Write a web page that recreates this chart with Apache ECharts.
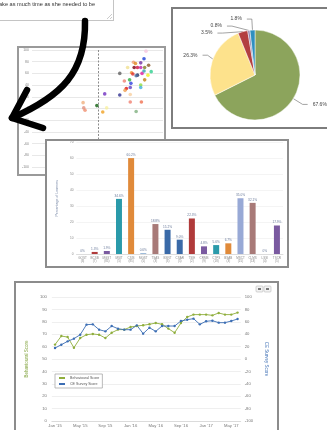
<!DOCTYPE html>
<html>
<head>
<meta charset="utf-8">
<script src="https://cdn.jsdelivr.net/npm/echarts@6/dist/echarts.min.js"></script>
<style>
html, body { margin: 0; padding: 0; width: 327px; height: 430px; overflow: hidden; background: #fff; position: relative; }
.box { position: absolute; box-sizing: border-box; background: #fff; }
</style>
</head>
<body>
<div id="note" class="box" style="left:-6px;top:-6px;width:120px;height:27px;border:1px solid #c4c4c4"></div>
<div id="pie" class="box" style="left:171px;top:7px;width:158px;height:122px;border:2px solid #7d7d7d"></div>
<div id="scatter" class="box" style="left:17px;top:46px;width:149px;height:130px;border:2px solid #9a9a9a"></div>
<div id="bar" class="box" style="left:45px;top:139px;width:244px;height:129px;border:2px solid #8c8c8c"></div>
<div id="line" class="box" style="left:14px;top:281px;width:265px;height:160px;border:2px solid #8c8c8c"></div>
<div id="arrow" style="position:absolute;left:0;top:0;width:327px;height:430px;pointer-events:none"></div>
<script>
// note text
const noteText = 'ake as much time as she needed to be'

// pie
const pieValues = [67.6, 26.3, 3.5, 0.8, 1.8]
const pieColors = ['#8ca45c', '#fde28c', '#b33f40', '#8f84b0', '#2f8fc0']

// scatter points (x, y)
const scatterX = [71, 74, 55, 58, 66, 78, 56, 61, 66, 72, 46, 52, 54, 61, 68, 71, 82, 77, 34, 59, 49, 41, 51, 66, 66, 72, 50, 44, 42, 50, 34, 11, -1, 50, 67, 14, 8, 59, -22, -21, -19]
const scatterY = [85, 98, 79, 77, 78, 74, 70, 70, 70, 70, 70, 61, 59, 57, 60, 64, 63, 57, 60, 56, 49, 47, 43, 40, 36, 49, 36, 34, 31, 24, 23, 25, 5, 11, 11, 1, -6, -5, 10, 1, -3]
const scatterColors = ['#1a3fd6', '#f6c6de', '#f0a070', '#e08a20', '#7030a0', '#8b5a2b', '#7a0010', '#d01040', '#c020b0', '#808020',
  '#f0e090', '#f09030', '#e03030', '#203060', '#e020a0', '#30a0b0', '#30d090', '#f0f020', '#606060', '#5070a0',
  '#30b040', '#f08070', '#3040e0', '#90e040', '#40b0e0', '#c08010', '#6040c0', '#e01010', '#f0a050', '#f8d0a0',
  '#303090', '#7030c0', '#106010', '#f08070', '#f07050', '#f8f0a0', '#f0a020', '#80b080', '#f0b080', '#e09080', '#f09070']

// bar
const barCategories = ['GOST\n(3)', 'BCSB\n(7)', 'MGST\n(85)', 'MSIT\n(5)', 'CSIS\n(85)', 'MGST\n(5)', 'TSAS\n(3)', 'BSNT\n(3)', 'CSAR\n(5)',
  'TSIE\n(2)', 'CRMB\n(9)', 'CTPS\n(18)', 'BSAB\n(3)', 'MSCT\n(15)', 'CLMS\n(13)', 'LSSI\n(4)', 'TSCR\n(5)']
const barValues = [0, 1.3, 1.9, 34.6, 60.2, 0.6, 18.8, 15.2, 9.0, 22.3, 4.8, 5.6, 6.7, 35.0, 32.1, 0, 17.9]
const barColors = ['#9ab8d8', '#b03a3a', '#7a5aa0', '#2a9aaa', '#e08a3a', '#9ab8d8', '#a87a78', '#3a6aa8', '#3a6aa8',
  '#b03a3a', '#7a5aa0', '#2a9aaa', '#e08a3a', '#98a9d6', '#a87a78', '#9ab8d8', '#7a5aa0']

// line
const months = ['Jan \'15', 'Feb \'15', 'Mar \'15', 'Apr \'15', 'May \'15', 'Jun \'15', 'Jul \'15', 'Aug \'15', 'Sep \'15', 'Oct \'15', 'Nov \'15', 'Dec \'15',
  'Jan \'16', 'Feb \'16', 'Mar \'16', 'Apr \'16', 'May \'16', 'Jun \'16', 'Jul \'16', 'Aug \'16', 'Sep \'16', 'Oct \'16', 'Nov \'16', 'Dec \'16',
  'Jan \'17', 'Feb \'17', 'Mar \'17', 'Apr \'17', 'May \'17', 'Jun \'17']
const behaviouralScore = [61.6, 68.5, 67.7, 59.1, 66.9, 69.6, 70.2, 69.6, 66.9, 71.2, 73.7, 73.7, 75.8, 76.6, 77.2, 78.0, 79.0, 78.0, 74.5, 71.2,
  79.0, 83.9, 85.8, 85.8, 85.8, 85.2, 87.1, 85.8, 85.8, 87.4]
const ceSurveyScore = [17.7, 23.1, 28.5, 32.8, 39.2, 55.4, 55.9, 47.3, 44.6, 53.2, 48.9, 47.3, 47.3, 54.3, 40.9, 50.5, 44.6, 53.2, 53.2, 53.2,
  61.3, 63.4, 65.1, 55.9, 60.8, 61.8, 58.6, 58.6, 61.3, 64.5]

const font = '"Liberation Sans", Arial, sans-serif'

// note box
const noteChart = echarts.init(document.getElementById('note'))
noteChart.setOption({
  graphic: [
    { type: 'text', left: 4, top: 6, style: { text: noteText, fontSize: 5.6, fill: '#333', fontFamily: font } },
    { type: 'line', shape: { x1: 112, y1: 24, x2: 117, y2: 19 }, style: { stroke: '#aaa', lineWidth: 0.6 } },
    { type: 'line', shape: { x1: 115, y1: 24, x2: 117, y2: 22 }, style: { stroke: '#aaa', lineWidth: 0.6 } }
  ]
})

// pie
const pieChart = echarts.init(document.getElementById('pie'))
pieChart.setOption({
  animation: false,
  series: [{
    type: 'pie',
    center: [82, 66],
    radius: 45,
    startAngle: 90,
    data: pieValues.map((v, i) => ({ value: v, itemStyle: { color: pieColors[i] } })),
    itemStyle: { borderColor: '#fff', borderWidth: 0.5 },
    label: {
      formatter: p => p.value.toFixed(1) + '%',
      fontSize: 5,
      color: '#444',
      overflow: 'none',
      fontFamily: font
    },
    labelLine: { length: 11, length2: 5, lineStyle: { color: '#666', width: 0.6 } }
  }]
})

// scatter
const scatterChart = echarts.init(document.getElementById('scatter'))
scatterChart.setOption({
  animation: false,
  grid: { left: 8, right: 1, top: 1, bottom: 7 },
  xAxis: {
    type: 'value', min: -100, max: 100,
    axisLabel: { show: false }, axisTick: { show: false }, axisLine: { show: false }, splitLine: { show: false }
  },
  yAxis: {
    type: 'value', min: -100, max: 100, interval: 20,
    axisLabel: { fontSize: 3.5, color: '#888', margin: 3, fontFamily: font },
    axisLine: { show: false }, axisTick: { show: false },
    splitLine: { lineStyle: { color: '#e2e2e2', width: 0.8 } }
  },
  series: [{
    type: 'scatter',
    symbolSize: 3.6,
    z: 5,
    data: scatterX.map((x, i) => ({ value: [x, scatterY[i]], itemStyle: { color: scatterColors[i] } }))
  }]
})
// dashed divider at x = 0, placed through the axis scale
const zeroTop = scatterChart.convertToPixel({ gridIndex: 0 }, [0, 100])
const zeroBottom = scatterChart.convertToPixel({ gridIndex: 0 }, [0, -100])
scatterChart.setOption({
  graphic: [{
    type: 'line',
    z: 1,
    shape: { x1: Math.round(zeroTop[0]) + 0.5, y1: zeroTop[1], x2: Math.round(zeroBottom[0]) + 0.5, y2: zeroBottom[1] + 7 },
    style: { stroke: '#8c8c8c', lineWidth: 1, lineDash: [2, 1.5] }
  }]
})

// bar
const barChart = echarts.init(document.getElementById('bar'))
barChart.setOption({
  animation: false,
  grid: { left: 10, right: 4, top: 1, bottom: 12 },
  xAxis: {
    type: 'category',
    data: barCategories,
    axisLabel: { fontSize: 3, lineHeight: 3.6, color: '#888', margin: 2, interval: 0, fontFamily: font },
    axisTick: { show: false },
    axisLine: { lineStyle: { color: '#ccc', width: 0.6 } }
  },
  yAxis: {
    type: 'value', min: 0, max: 70, interval: 10,
    name: 'Percentage of Learners',
    nameLocation: 'middle',
    nameGap: 5,
    nameTextStyle: { fontSize: 3.5, color: '#7a8aa8', fontFamily: font },
    axisLabel: { fontSize: 3.2, color: '#888', margin: 3, fontFamily: font },
    axisLine: { show: false }, axisTick: { show: false },
    splitLine: { lineStyle: { color: '#ececec', width: 0.6 } }
  },
  series: [{
    type: 'bar',
    barWidth: 6,
    data: barValues.map((v, i) => ({ value: v, itemStyle: { color: barColors[i] } })),
    label: {
      show: true, position: 'top', distance: 1.5,
      formatter: p => (p.value === 0 ? '0%' : p.value.toFixed(1) + '%'),
      fontSize: 3.2, color: '#6a7a9a', fontFamily: font
    }
  }]
})

// line
const lineChart = echarts.init(document.getElementById('line'))
lineChart.setOption({
  animation: false,
  grid: { left: 17, right: 25, top: 14, bottom: 18 },
  legend: {
    orient: 'vertical', left: 39, top: 91,
    borderColor: '#aaa', borderWidth: 0.8, backgroundColor: '#fff',
    padding: [2, 3], itemGap: 2, itemWidth: 6, itemHeight: 2.5,
    textStyle: { fontSize: 3.6, color: '#555', fontFamily: font },
    data: ['Behavioural Score', 'CE Survey Score']
  },
  xAxis: {
    type: 'category',
    data: months,
    axisLabel: { interval: 3, fontSize: 4.2, color: '#777', margin: 3, fontFamily: font },
    axisTick: { show: false },
    axisLine: { lineStyle: { color: '#ccc', width: 0.6 } }
  },
  yAxis: [{
    type: 'value', min: 0, max: 100, interval: 10,
    name: 'Behavioural Score', nameLocation: 'middle', nameGap: 10,
    nameTextStyle: { fontSize: 4.5, color: '#7fa13a', fontFamily: font },
    axisLabel: { fontSize: 4.2, color: '#777', margin: 5, fontFamily: font },
    axisLine: { show: false }, axisTick: { show: false },
    splitLine: { lineStyle: { color: '#e4e4e4', width: 0.6 } }
  }, {
    type: 'value', min: -100, max: 100, interval: 20, position: 'right',
    name: 'CE Survey Score', nameLocation: 'middle', nameGap: 17, nameRotate: -90,
    nameTextStyle: { fontSize: 4.5, color: '#3c6eb4', fontFamily: font },
    axisLabel: { fontSize: 4.2, color: '#777', margin: 4, fontFamily: font },
    axisLine: { show: false }, axisTick: { show: false }, splitLine: { show: false }
  }],
  series: [{
    name: 'Behavioural Score',
    type: 'line',
    data: behaviouralScore,
    symbol: 'circle', symbolSize: 2.4,
    itemStyle: { color: '#8fae3c' },
    lineStyle: { width: 0.9, color: '#8fae3c' }
  }, {
    name: 'CE Survey Score',
    type: 'line',
    yAxisIndex: 1,
    data: ceSurveyScore,
    symbol: 'circle', symbolSize: 2.4,
    itemStyle: { color: '#3c6eb4' },
    lineStyle: { width: 0.9, color: '#3c6eb4' }
  }],
  graphic: [
    { type: 'rect', shape: { x: 240, y: 3, width: 7, height: 6, r: 1 }, style: { fill: '#f2f2f2', stroke: '#bbb', lineWidth: 0.6 } },
    { type: 'rect', shape: { x: 248, y: 3, width: 7, height: 6, r: 1 }, style: { fill: '#f2f2f2', stroke: '#bbb', lineWidth: 0.6 } },
    { type: 'rect', shape: { x: 242, y: 5, width: 3, height: 2 }, style: { fill: '#777' } },
    { type: 'rect', shape: { x: 250, y: 5, width: 3, height: 2 }, style: { fill: '#777' } }
  ]
})

// arrow overlay
const arrowChart = echarts.init(document.getElementById('arrow'))
arrowChart.setOption({
  graphic: [
    {
      type: 'bezierCurve',
      shape: { x1: 85, y1: 21, cpx1: 86, cpy1: 72, cpx2: 62, cpy2: 96, x2: 12, y2: 118 },
      style: { stroke: '#000', lineWidth: 6.5, lineCap: 'round', fill: null }
    },
    {
      type: 'polyline',
      shape: { points: [[27, 90], [12, 118], [43, 128]] },
      style: { stroke: '#000', lineWidth: 6.5, lineCap: 'round', lineJoin: 'round', fill: null }
    }
  ]
})
</script>
</body>
</html>
